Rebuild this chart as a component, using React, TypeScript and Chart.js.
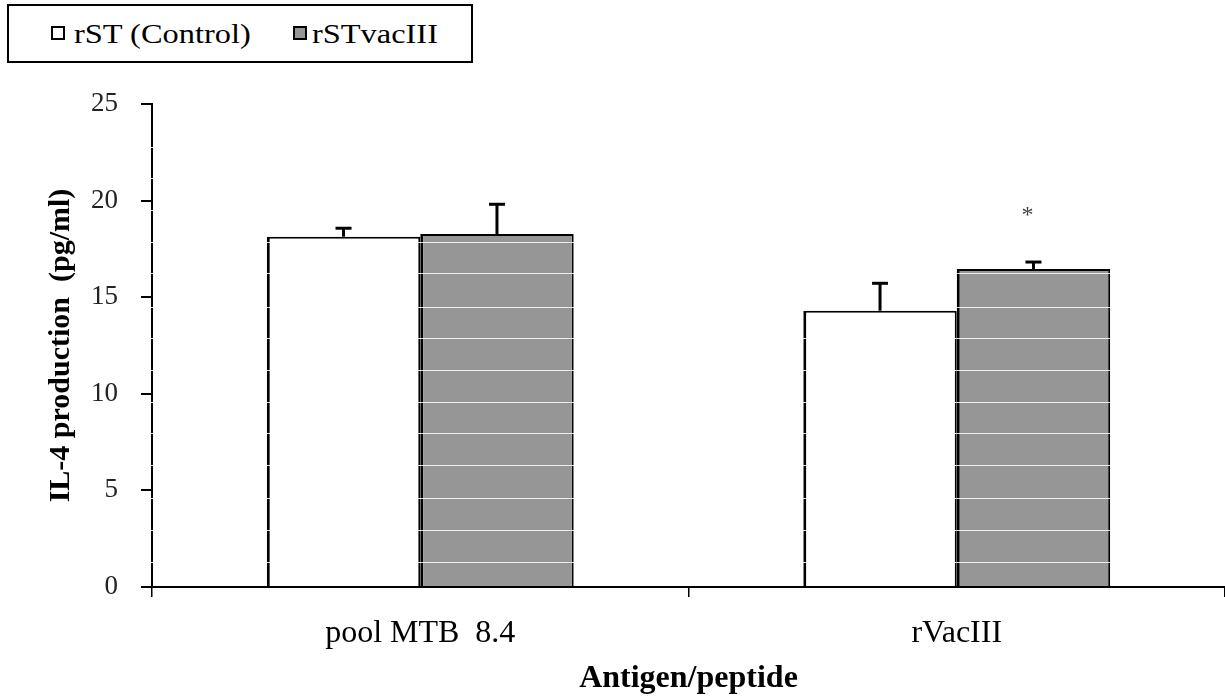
import React, { useEffect, useRef } from 'react';
import { Chart, registerables } from 'chart.js';

Chart.register(...registerables);

const categories = ['pool MTB  8.4', 'rVacIII'];
const seriesNames = ['rST (Control)', 'rSTvacIII'];
const controlValues = [18.13, 14.3];
const controlErrors = [0.44, 1.42];
const vacValues = [18.27, 16.46];
const vacErrors = [1.54, 0.36];
const vacSignificance = ['', '*'];
const vacSignificanceLevel = [0, 19.4];
const yMin = 0;
const yMax = 25;
const yStep = 5;
const scanLines = [1.29, 2.95, 4.61, 6.31, 7.97, 9.58, 11.23, 12.89, 14.49, 16.25, 17.86, 19.51, 21.17, 22.77];

const SERIF = '"Liberation Serif", "Times New Roman", serif';
const GRAY = '#969696';

const overlayPlugin = {
  id: 'overlay',
  afterDatasetsDraw(chart: any) {
    const ctx = chart.ctx;
    const y = chart.scales.y;
    const area = chart.chartArea;
    ctx.save();
    // faint scan lines of the scanned figure
    ctx.strokeStyle = 'rgba(255,255,255,0.85)';
    ctx.lineWidth = 1;
    scanLines.forEach((v) => {
      const py = Math.round(y.getPixelForValue(v)) + 0.5;
      ctx.beginPath();
      ctx.moveTo(area.left - 2, py);
      ctx.lineTo(area.right, py);
      ctx.stroke();
    });
    // error bars (upper only)
    const vals = [controlValues, vacValues];
    const errs = [controlErrors, vacErrors];
    ctx.strokeStyle = '#000';
    chart.data.datasets.forEach((_ds: any, i: number) => {
      const meta = chart.getDatasetMeta(i);
      meta.data.forEach((bar: any, j: number) => {
        const x = bar.x;
        const top = y.getPixelForValue(vals[i][j]);
        const et = y.getPixelForValue(vals[i][j] + errs[i][j]);
        ctx.lineWidth = 3;
        ctx.beginPath();
        ctx.moveTo(x, top);
        ctx.lineTo(x, et);
        ctx.stroke();
        ctx.lineWidth = 3;
        ctx.beginPath();
        ctx.moveTo(x - 8, et);
        ctx.lineTo(x + 8, et);
        ctx.stroke();
      });
    });
    // significance marks
    const meta = chart.getDatasetMeta(1);
    ctx.fillStyle = '#444';
    ctx.font = `24px ${SERIF}`;
    ctx.textAlign = 'center';
    ctx.textBaseline = 'middle';
    meta.data.forEach((bar: any, j: number) => {
      if (vacSignificance[j]) {
        ctx.fillText(vacSignificance[j], bar.x - 6, y.getPixelForValue(vacSignificanceLevel[j]) + 4);
      }
    });
    ctx.restore();
  },
};

export default function App() {
  const ref = useRef<HTMLCanvasElement | null>(null);

  useEffect(() => {
    if (!ref.current) return;
    const chart = new Chart(ref.current, {
      type: 'bar',
      data: {
        labels: categories,
        datasets: [
          {
            label: seriesNames[0],
            data: controlValues,
            backgroundColor: '#ffffff',
            borderColor: '#000',
            borderWidth: { top: 2, left: 3, right: 2, bottom: 0 },
            borderSkipped: false,
            barPercentage: 1,
            categoryPercentage: 0.572,
          },
          {
            label: seriesNames[1],
            data: vacValues,
            backgroundColor: GRAY,
            borderColor: '#000',
            borderWidth: { top: 2, left: 3, right: 2, bottom: 0 },
            borderSkipped: false,
            barPercentage: 1,
            categoryPercentage: 0.572,
          },
        ],
      },
      options: {
        animation: false,
        responsive: false,
        maintainAspectRatio: false,
        layout: { padding: { left: 43, top: 104, right: 0, bottom: 0 } },
        plugins: {
          legend: { display: false },
          tooltip: { enabled: false },
        },
        scales: {
          x: {
            afterFit: (s: any) => {
              s.height = 111;
            },
            grid: {
              offset: true,
              drawOnChartArea: false,
              drawTicks: true,
              tickLength: 10,
              color: '#000',
              lineWidth: 1.5,
            },
            border: { display: true, color: '#000', width: 2 },
            ticks: {
              color: '#000',
              font: { family: SERIF, size: 32 },
              padding: 17,
              maxRotation: 0,
            },
            title: {
              display: true,
              text: 'Antigen/peptide',
              color: '#000',
              font: { family: SERIF, size: 32, weight: 'bold' },
              padding: 0,
            },
          },
          y: {
            min: yMin,
            max: yMax,
            afterFit: (s: any) => {
              s.width = 109;
            },
            grid: {
              drawOnChartArea: false,
              drawTicks: true,
              tickLength: 11,
              color: '#000',
              lineWidth: 2,
            },
            border: { display: true, color: '#000', width: 2 },
            ticks: {
              stepSize: yStep,
              color: '#222',
              font: { family: SERIF, size: 27 },
              padding: 23,
            },
            title: {
              display: true,
              text: 'IL-4 production  (pg/ml)',
              color: '#000',
              font: { family: SERIF, size: 30, weight: 'bold' },
              padding: 0,
            },
          },
        },
      },
      plugins: [overlayPlugin],
    } as any);
    return () => chart.destroy();
  }, []);

  const legendText: React.CSSProperties = {
    position: 'absolute',
    top: 13,
    fontFamily: SERIF,
    fontSize: 27,
    lineHeight: '30px',
    color: '#000',
    whiteSpace: 'nowrap',
    transform: 'scaleX(1.2)',
    transformOrigin: 'left center',
  };
  const square = (bg: string): React.CSSProperties => ({
    position: 'absolute',
    top: 20,
    width: 10,
    height: 10,
    border: '2px solid #000',
    background: bg,
  });

  return (
    <div style={{ position: 'absolute', left: 0, top: 0, width: 1225, height: 698, background: '#fff' }}>
      <canvas ref={ref} width={1225} height={698} style={{ position: 'absolute', left: 0, top: 0, width: 1225, height: 698 }} />
      <div
        style={{
          position: 'absolute',
          left: 7,
          top: 4,
          width: 462,
          height: 55,
          border: '2px solid #000',
          background: '#fff',
        }}
      >
        <div style={{ ...square('#fff'), left: 42 }} />
        <div style={{ ...legendText, left: 65 }}>{seriesNames[0]}</div>
        <div style={{ ...square(GRAY), left: 284 }} />
        <div style={{ ...legendText, left: 303 }}>{seriesNames[1]}</div>
      </div>
    </div>
  );
}
